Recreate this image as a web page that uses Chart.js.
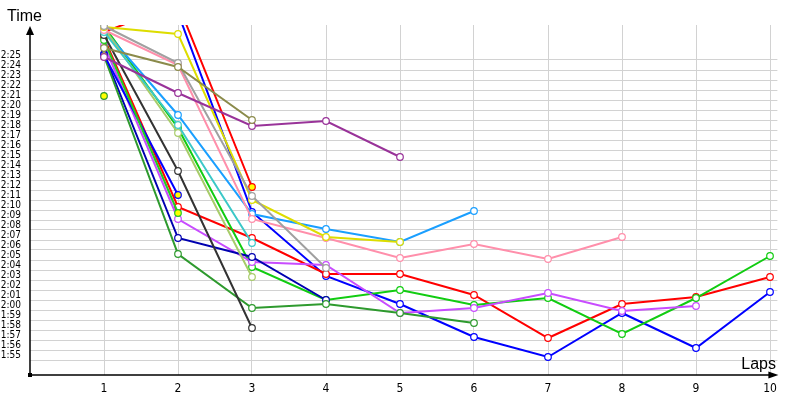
<!DOCTYPE html>
<html>
<head>
<meta charset="utf-8">
<title>Lap times</title>
<script src="https://cdn.jsdelivr.net/npm/chart.js@4/dist/chart.umd.min.js"></script>
<style>
  html, body { margin: 0; padding: 0; background: #fff; }
  #wrap { width: 800px; height: 400px; }
</style>
</head>
<body>
<div id="wrap"><canvas id="chartLaps" width="800" height="400"></canvas></div>
<script>
/* ===== Data (lap times in seconds, null = no lap) ===== */
const laps = [1, 2, 3, 4, 5, 6, 7, 8, 9, 10];
const timeTicks = [115, 116, 117, 118, 119, 120, 121, 122, 123, 124, 125, 126, 127, 128, 129, 130,
  131, 132, 133, 134, 135, 136, 137, 138, 139, 140, 141, 142, 143, 144, 145];

const redLong    = [147.2, 130.3, 127.2, 123.6, 123.6, 121.5, 117.2, 120.6, 121.3, 123.3];
const blueLong   = [151.5, 149.7, 129.8, 123.4, 120.6, 117.3, 115.3, 119.7, 116.2, 121.8];
const greenLong  = [148.4, 138.2, 124.3, 121.0, 122.0, 120.5, 121.2, 117.6, 121.2, 125.4];
const violet     = [146.5, 129.1, 124.8, 124.5, 119.7, 120.2, 121.7, 119.9, 120.4, null];
const pink       = [148.0, 144.5, 129.1, 127.2, 125.2, 126.6, 125.1, 127.3, null, null];
const darkGreen  = [145.4, 125.6, 120.2, 120.6, 119.7, 118.7, null, null, null, null];
const skyBlue    = [148.0, 139.5, 129.6, 128.1, 126.8, 129.9, null, null, null, null];
const yellow     = [148.3, 147.6, 131.0, 127.3, 126.8, null, null, null, null, null];
const gray       = [148.4, 144.7, 131.4, 124.2, null, null, null, null, null, null];
const olive      = [146.2, 144.3, 139.0, null, null, null, null, null, null, null];
const plum       = [145.3, 141.7, 138.4, 138.9, 135.3, null, null, null, null, null];
const navy       = [145.6, 127.2, 125.3, 121.0, null, null, null, null, null, null];
const black      = [147.5, 133.9, 118.2, null, null, null, null, null, null, null];
const cyan       = [147.8, 138.5, 126.7, null, null, null, null, null, null, null];
const lightGreen = [148.2, 137.7, 123.3, null, null, null, null, null, null, null];
const redPit     = [147.8, 150.6, 132.3, null, null, null, null, null, null, null];
const bluePit    = [145.5, 131.5, null, null, null, null, null, null, null, null];
const greenPit   = [147.0, 129.7, null, null, null, null, null, null, null, null];
const lone       = [141.4, null, null, null, null, null, null, null, null, null];

(function () {
  'use strict';

  const FONT = "'DejaVu Sans Condensed', 'Liberation Sans', sans-serif";
  const PIT_FILL = '#ffff00';

  function fmtTime(v) {
    const m = Math.floor(v / 60);
    const s = Math.round(v - m * 60);
    return m + ':' + (s < 10 ? '0' : '') + s;
  }

  /* series: [values, colour, laps drawn with the yellow marker] */
  const series = [
    [lone, '#2e9a2e', [1]],
    [olive, '#8b8b4b', []],
    [plum, '#993399', []],
    [gray, '#a0a0a0', []],
    [yellow, '#dddd00', []],
    [pink, '#ff8fab', []],
    [cyan, '#3cc8c8', []],
    [lightGreen, '#a8cc6a', []],
    [black, '#333333', []],
    [skyBlue, '#1a9fff', []],
    [greenPit, '#22cc22', [2]],
    [bluePit, '#0000ff', [1, 2]],
    [redPit, '#ff0000', [1, 3]],
    [darkGreen, '#2e9a2e', []],
    [navy, '#0000b0', []],
    [violet, '#c84cff', []],
    [greenLong, '#11cc11', []],
    [redLong, '#ff0000', []],
    [blueLong, '#0000ff', []]
  ];

  const datasets = series.map(([vals, color, pits]) => ({
    data: vals.map((v, i) => ({ x: laps[i], y: v })),
    borderColor: color,
    backgroundColor: color,
    borderWidth: 2,
    pointRadius: 3.3,
    pointBorderWidth: 1.2,
    pointBorderColor: color,
    pointBackgroundColor: laps.map(l => pits.includes(l) ? PIT_FILL : '#ffffff'),
    spanGaps: false,
    tension: 0
  }));

  /* ===== Axes with arrows + titles ===== */
  const axisDeco = {
    id: 'axisDeco',
    afterDraw(chart) {
      const { ctx, chartArea: a } = chart;
      ctx.save();
      ctx.strokeStyle = '#000';
      ctx.fillStyle = '#000';
      ctx.lineWidth = 1.5;
      ctx.beginPath();
      ctx.moveTo(a.left, a.bottom);
      ctx.lineTo(a.left, a.top + 4);
      ctx.moveTo(a.left, a.bottom);
      ctx.lineTo(a.right - 4, a.bottom);
      ctx.stroke();
      // y arrow
      ctx.beginPath();
      ctx.moveTo(a.left, a.top + 1);
      ctx.lineTo(a.left - 4, a.top + 10);
      ctx.lineTo(a.left + 4, a.top + 10);
      ctx.closePath();
      ctx.fill();
      // x arrow
      ctx.beginPath();
      ctx.moveTo(a.right + 1, a.bottom);
      ctx.lineTo(a.right - 9, a.bottom - 3.5);
      ctx.lineTo(a.right - 9, a.bottom + 3.5);
      ctx.closePath();
      ctx.fill();
      ctx.fillRect(a.left - 2, a.bottom - 2, 4, 4);

      ctx.font = "16px 'Liberation Sans', sans-serif";
      ctx.textBaseline = 'alphabetic';
      ctx.textAlign = 'left';
      ctx.fillText('Time', 7, 21);
      ctx.textAlign = 'right';
      ctx.fillText('Laps', 776, 369);
      ctx.restore();
    }
  };

  new Chart(document.getElementById('chartLaps'), {
    type: 'line',
    data: { datasets },
    plugins: [axisDeco],
    options: {
      responsive: false,
      animation: false,
      layout: { padding: { top: 25, right: 22.6, left: 0, bottom: 0 } },
      plugins: { legend: { display: false }, tooltip: { enabled: false } },
      scales: {
        x: {
          type: 'linear',
          min: 0,
          max: 10.1,
          afterBuildTicks: s => { s.ticks = laps.map(v => ({ value: v })); },
          afterFit: s => { s.height = 25; },
          border: { display: false },
          grid: { color: '#d2d2d2', lineWidth: 1, drawTicks: false },
          ticks: { color: '#000', font: { family: FONT, size: 12 }, padding: 7, maxRotation: 0, autoSkip: false }
        },
        y: {
          type: 'linear',
          min: 113.5,
          max: 148.5,
          afterBuildTicks: s => { s.ticks = timeTicks.map(v => ({ value: v })); },
          afterFit: s => { s.width = 30; },
          border: { display: false },
          grid: { color: '#d2d2d2', lineWidth: 1, drawTicks: false },
          ticks: {
            color: '#000',
            font: { family: FONT, size: 10 },
            padding: 9,
            labelOffset: -5,
            autoSkip: false,
            callback: v => fmtTime(v)
          }
        }
      }
    }
  });
})();
</script>
</body>
</html>
